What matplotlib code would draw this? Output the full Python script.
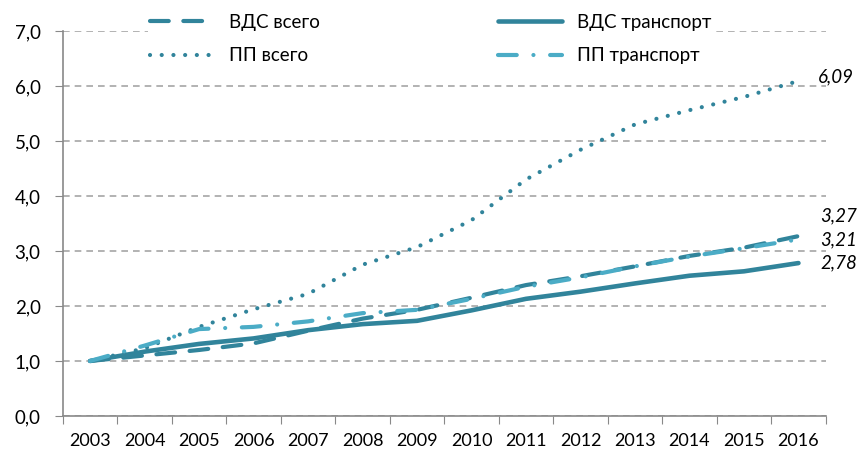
import matplotlib
matplotlib.use('Agg')
import matplotlib.pyplot as plt
import numpy as np

years = [str(y) for y in range(2003, 2017)]
vds_total = [1.0, 1.10, 1.20, 1.32, 1.55, 1.77, 1.93, 2.15, 2.38, 2.54, 2.72, 2.91, 3.06, 3.27]
vds_transport = [1.0, 1.17, 1.31, 1.41, 1.56, 1.67, 1.73, 1.92, 2.13, 2.26, 2.41, 2.55, 2.63, 2.78]
pp_total = [1.0, 1.23, 1.62, 1.94, 2.22, 2.75, 3.07, 3.56, 4.30, 4.84, 5.30, 5.56, 5.80, 6.09]
pp_transport = [1.0, 1.28, 1.58, 1.62, 1.72, 1.87, 1.93, 2.13, 2.35, 2.52, 2.72, 2.90, 3.05, 3.21]
end_labels = ['6,09', '3,27', '3,21', '2,78']

dark = '#31849B'
light = '#4BACC6'

plt.rcParams['font.family'] = ['Lato', 'DejaVu Sans']

fig = plt.figure(figsize=(8.61, 4.53), dpi=100)
ax = fig.add_axes([0.073, 0.0817, 0.886, 0.85])

x = np.arange(len(years)) + 0.5
l1, = ax.plot(x, vds_total, color=dark, lw=3, dashes=(4.5, 3.5), label='ВДС всего', dash_capstyle='round')
l2, = ax.plot(x, vds_transport, color=dark, lw=3.3, label='ВДС транспорт', solid_capstyle='round')
l3, = ax.plot(x, pp_total, color=dark, lw=3, dashes=(0.01, 2.8), label='ПП всего', dash_capstyle='round')
l4, = ax.plot(x, pp_transport, color=light, lw=3, dashes=(4.5, 4, 0.01, 4), label='ПП транспорт', dash_capstyle='round')

ax.set_xlim(0, 14)
ax.set_ylim(0, 7)
ax.set_yticks(np.arange(0, 8, 1))
ax.yaxis.set_major_formatter(matplotlib.ticker.FuncFormatter(lambda v, p: ('%.1f' % v).replace('.', ',')))
ax.set_xticks(np.arange(0, 15))
ax.set_xticklabels([])
ax.set_xticks(x, minor=True)
ax.set_xticklabels(years, minor=True)
ax.tick_params(axis='x', which='minor', length=0, pad=12, labelsize=13)
ax.tick_params(axis='x', which='major', length=6, color='#898989', direction='out')
ax.tick_params(axis='y', length=6, color='#898989', labelsize=13.5, pad=10)

ax.grid(axis='y', color='#A6A6A6', ls=(0, (4, 3)), lw=1.2)
ax.set_axisbelow(True)
for s in ['top', 'right']:
    ax.spines[s].set_visible(False)
for s in ['left', 'bottom']:
    ax.spines[s].set_color('#898989')
    ax.spines[s].set_linewidth(1.2)

# end value labels
offs = [(0.35, 0.07), (0.4, 0.36), (0.4, 0.0), (0.4, 0.0)]
for series, lab, (dx, dy) in zip([pp_total, vds_total, pp_transport, vds_transport], end_labels, offs):
    ax.text(x[-1] + dx, series[-1] + dy, lab, style='italic', fontsize=13.5, va='center', ha='left', clip_on=False)

leg = ax.legend(handles=[l1, l3, l2, l4], ncol=2, loc='upper left', bbox_to_anchor=(0.112, 1.05),
                frameon=True, fontsize=13.5, handlelength=3.4, columnspacing=9.5, labelspacing=0.9,
                handletextpad=0.8, borderaxespad=0, borderpad=0.1)
leg.get_frame().set_edgecolor('none')
leg.get_frame().set_facecolor('white')
leg.get_frame().set_alpha(1)

fig.savefig('out.png', dpi=100)
